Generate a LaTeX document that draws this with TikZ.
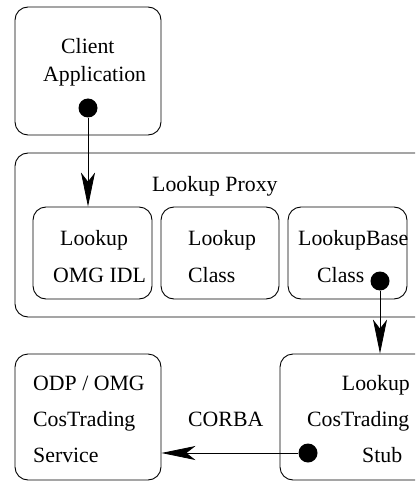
\documentclass[tikz,border=0pt]{standalone}
\usepackage{fontspec}
\setmainfont{Liberation Serif}
\newfontfamily\timesfam{Liberation Serif}
\usetikzlibrary{arrows.meta}
\begin{document}
\begin{tikzpicture}[x=1pt,y=-1pt,
  box/.style={draw, line width=0.9pt, rounded corners=13pt, rectangle, inner sep=0pt},
  lbl/.style={font=\timesfam\fontsize{21.8}{24}\selectfont, inner sep=0pt},
  dot/.style={circle, fill=black, inner sep=0pt, minimum size=19pt},
  conn/.style={line width=0.8pt, -{Stealth[length=34pt, width=14pt, inset=9pt]}}]
\useasboundingbox (0,0) rectangle (415,481);
\clip (0,0) rectangle (415,481);
% boxes
\node[box, minimum width=146pt, minimum height=128pt] (client) at (88,71) {};
\node[box, minimum width=425pt, minimum height=164pt] (proxy) at (227.5,235) {};
\node[box, minimum width=119pt, minimum height=92pt] (idl) at (92.5,253) {};
\node[box, minimum width=118pt, minimum height=92pt] (cls) at (220,253) {};
\node[box, minimum width=119pt, minimum height=92pt] (base) at (347.5,253) {};
\node[box, minimum width=146pt, minimum height=126pt] (odp) at (88,417) {};
\node[box, minimum width=160pt, minimum height=126pt] (stub) at (360,417) {};
% texts
\node[lbl, anchor=base west] (t1) at (61,54) {Client};
\node[lbl, anchor=base west] (t2) at (43,82) {Application};
\node[lbl, anchor=base west] (t3) at (152,191) {Lookup Proxy};
\node[lbl, anchor=base west] (t4) at (60,245) {Lookup};
\node[lbl, anchor=base west] (t5) at (53,282) {OMG IDL};
\node[lbl, anchor=base west] (t6) at (188,245) {Lookup};
\node[lbl, anchor=base west] (t7) at (188,282) {Class};
\node[lbl, anchor=base west] (t8) at (298,245) {LookupBase};
\node[lbl, anchor=base west] (t9) at (317,282) {Class};
\node[lbl, anchor=base west] (t10) at (33,390) {ODP / OMG};
\node[lbl, anchor=base west] (t11) at (33,426) {CosTrading};
\node[lbl, anchor=base west] (t12) at (33,462) {Service};
\node[lbl, anchor=base west] (t13) at (188,426) {CORBA};
\node[lbl, anchor=base east] (t14) at (410,390) {Lookup};
\node[lbl, anchor=base west] (t15) at (307,426) {CosTrading};
\node[lbl, anchor=base west] (t16) at (362,462) {Stub};
% dots
\node[dot] (d1) at (88,108) {};
\node[dot] (d2) at (380,281) {};
\node[dot] (d3) at (308,453) {};
% connectors
\draw[conn] (d1.south) -- (d1.south |- idl.north);
\draw[conn] (d2.south) -- (d2.south |- stub.north);
\draw[conn] (d3.west) -- (d3.west -| odp.east);
\end{tikzpicture}
\end{document}
